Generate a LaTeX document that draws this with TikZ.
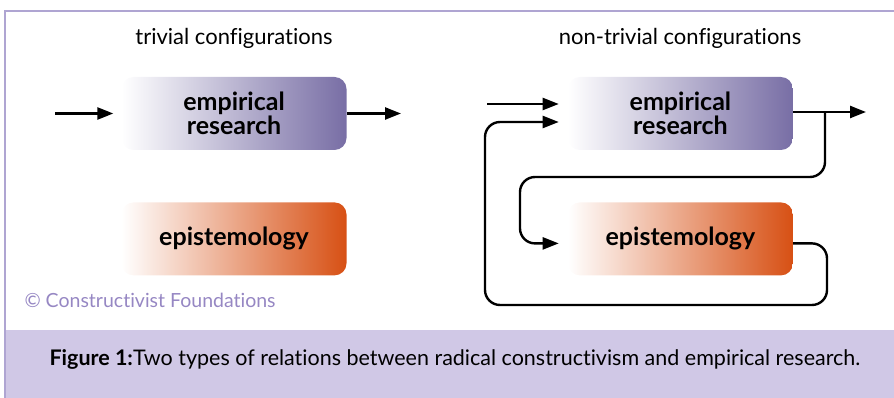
\documentclass[tikz,border=0pt]{standalone}
\usepackage{fontspec}
\setmainfont{Lato}[Ligatures=NoCommon]
\usetikzlibrary{positioning, arrows.meta, calc}
\definecolor{erpurple}{RGB}{120,110,165}
\definecolor{eporange}{RGB}{215,80,20}
\definecolor{capband}{RGB}{208,200,230}
\definecolor{frameline}{RGB}{175,165,210}
\definecolor{copytext}{RGB}{150,135,195}
\tikzset{
  box/.style={
	rounded corners=12pt, % soft corners of the boxes
	minimum width=225pt, minimum height=73pt,
	align=center, inner sep=0pt,
	font=\fontsize{25}{24}\selectfont\bfseries,
  },
  empirical/.style={box, left color=white, right color=erpurple},
  episto/.style={box, left color=white, right color=eporange},
  flow/.style={-{Triangle[length=16pt, width=12pt]}, line width=2.4pt, rounded corners=15pt},
  heading/.style={font=\fontsize{22}{24}\selectfont},
}
\begin{document}
\begin{tikzpicture}[x=1pt, y=-1pt]
	\useasboundingbox (0,0) rectangle (894,398);

	% frame and caption band
	\fill[capband] (5,330) rectangle (894,398);
	\draw[frameline, line width=1.2pt] (894,11) -- (5,11) -- (5,398);

	% trivial configurations
	\node[heading] (triv) at (234,38) {trivial configurations};
	\node[empirical] (er1) at (234,113.5) {empirical\\research};
	\node[episto, below=52pt of er1] (ep1) {epistemology};
	\coordinate (in1) at (55,113.5);
	\coordinate (out1) at (401,113.5);
	\draw[flow, shorten >=8pt] (in1) -- (er1);
	\draw[flow] (er1) -- (out1);

	% non-trivial configurations
	\node[heading] (ntriv) at (680,38) {non-trivial configurations};
	\node[empirical, right=221pt of er1] (er2) {empirical\\research};
	\node[episto, below=52pt of er2] (ep2) {epistemology};
	\coordinate (in2) at (487,104);
	\coordinate (out2) at (866,112);
	\coordinate (branch) at (825,112);
	\coordinate (turn) at (520,177);
	\coordinate (loopR) at (827,305);
	\coordinate (loopL) at (485,305);
	\draw[flow, shorten >=9pt] (in2) -- (in2 -| er2.west);
	\draw[flow] (er2.east |- out2) -- (out2);
	\draw[flow, shorten >=9pt] (branch) |- (turn) |- ($(ep2.west)+(0,4.5)$);
	\draw[flow, shorten >=9pt] ($(ep2.east)+(0,4.5)$) -| (loopR) -- (loopL) |- ($(er2.west)+(0,8.5)$);

	% copyright and caption
	\node[copytext, anchor=west, font=\fontsize{19.5}{22}\selectfont] (copy) at (21,300) {© Constructivist Foundations};
	\node[anchor=west, font=\fontsize{21.5}{24}\selectfont] (cap) at (46,359) {\textbf{Figure 1:}Two types of relations between radical constructivism and empirical research.};
\end{tikzpicture}
\end{document}
